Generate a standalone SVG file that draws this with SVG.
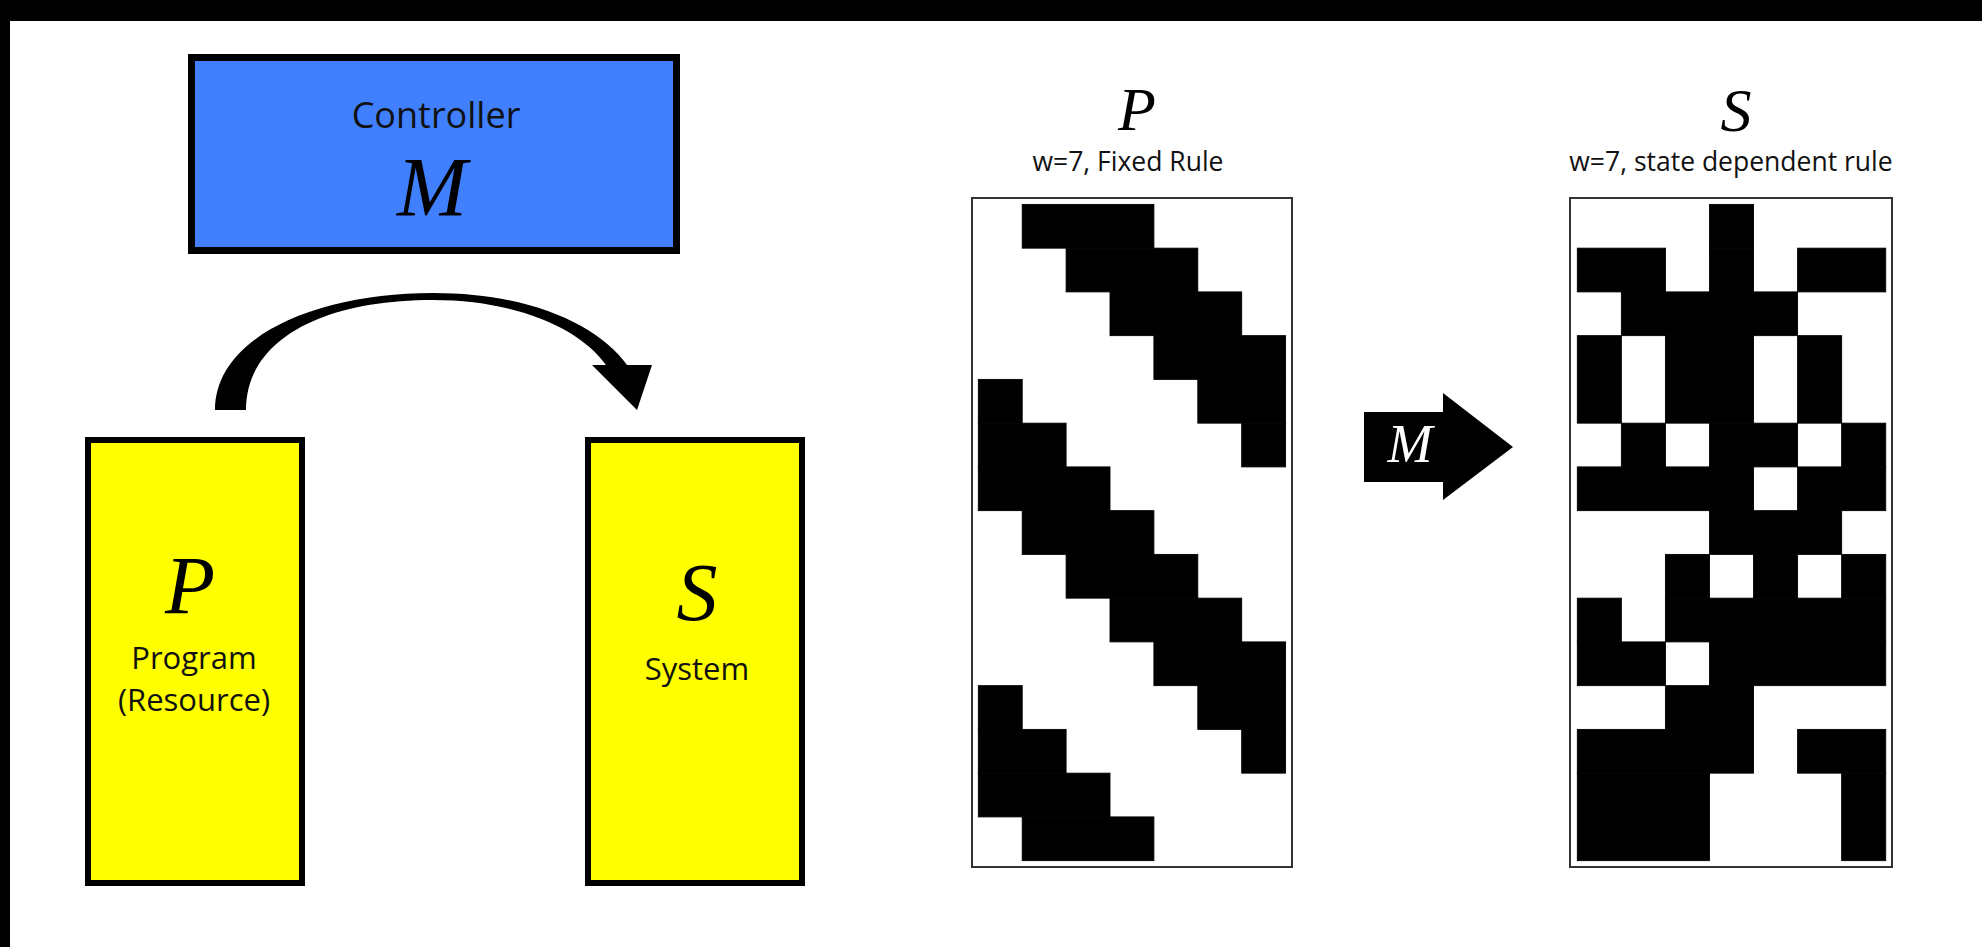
<svg xmlns="http://www.w3.org/2000/svg" width="1982" height="947" viewBox="0 0 1982 947">
<style>
.lbl{font-family:"Open Sans","Liberation Sans",sans-serif;fill:#111;text-anchor:middle}
.cal{font-family:"Liberation Serif","DejaVu Serif",serif;font-style:italic;fill:#000;text-anchor:middle}
.box{stroke:#000;stroke-width:6}
.frame{fill:#fff;stroke:#333;stroke-width:2}
.cells rect{fill:#000;stroke:#000;stroke-width:0.02}
</style>
<rect x="0" y="0" width="1982" height="947" fill="#fff"/>
<rect x="0" y="0" width="1982" height="21" fill="#000"/>
<rect x="0" y="0" width="10" height="947" fill="#000"/>

<g id="controller">
<rect x="191.5" y="57.5" width="485" height="193" fill="#4080FF" stroke="#000" stroke-width="7"/>
<text class="lbl" x="436" y="128" font-size="36">Controller</text>
<text class="cal" x="432" y="216" font-size="84">M</text>
</g>

<g id="program">
<rect class="box" x="88" y="440" width="214" height="443" fill="#FFFF00"/>
<text class="cal" x="190" y="613" font-size="82">P</text>
<text class="lbl" x="194" y="669" font-size="31">Program</text>
<text class="lbl" x="194" y="711" font-size="31">(Resource)</text>
</g>

<g id="system">
<rect class="box" x="588" y="440" width="214" height="443" fill="#FFFF00"/>
<text class="cal" x="697" y="620" font-size="82">S</text>
<text class="lbl" x="697" y="680" font-size="31">System</text>
</g>

<g id="gridP">
<text class="cal" x="1137" y="130" font-size="62">P</text>
<text class="lbl" x="1128" y="171" font-size="26.5">w=7, Fixed Rule</text>
<rect class="frame" x="972" y="198" width="320" height="669"/>
<g class="cells" transform="translate(978.3,204.4) scale(43.9,43.75)">
<rect x="1" y="0" width="3" height="1"/>
<rect x="2" y="1" width="3" height="1"/>
<rect x="3" y="2" width="3" height="1"/>
<rect x="4" y="3" width="3" height="1"/>
<rect x="0" y="4" width="1" height="1"/><rect x="5" y="4" width="2" height="1"/>
<rect x="0" y="5" width="2" height="1"/><rect x="6" y="5" width="1" height="1"/>
<rect x="0" y="6" width="3" height="1"/>
<rect x="1" y="7" width="3" height="1"/>
<rect x="2" y="8" width="3" height="1"/>
<rect x="3" y="9" width="3" height="1"/>
<rect x="4" y="10" width="3" height="1"/>
<rect x="0" y="11" width="1" height="1"/><rect x="5" y="11" width="2" height="1"/>
<rect x="0" y="12" width="2" height="1"/><rect x="6" y="12" width="1" height="1"/>
<rect x="0" y="13" width="3" height="1"/>
<rect x="1" y="14" width="3" height="1"/>
</g>
</g>

<g id="gridS">
<text class="cal" x="1736" y="131" font-size="62">S</text>
<text class="lbl" x="1731" y="171" font-size="26.5">w=7, state dependent rule</text>
<rect class="frame" x="1570" y="198" width="322" height="669"/>
<g class="cells" transform="translate(1577.3,204.4) scale(44.06,43.75)">
<rect x="3" y="0" width="1" height="1"/>
<rect x="0" y="1" width="2" height="1"/><rect x="3" y="1" width="1" height="1"/><rect x="5" y="1" width="2" height="1"/>
<rect x="1" y="2" width="4" height="1"/>
<rect x="0" y="3" width="1" height="2"/><rect x="2" y="3" width="2" height="2"/><rect x="5" y="3" width="1" height="2"/>
<rect x="1" y="5" width="1" height="1"/><rect x="3" y="5" width="2" height="1"/><rect x="6" y="5" width="1" height="1"/>
<rect x="0" y="6" width="4" height="1"/><rect x="5" y="6" width="2" height="1"/>
<rect x="3" y="7" width="3" height="1"/>
<rect x="2" y="8" width="1" height="1"/><rect x="4" y="8" width="1" height="1"/><rect x="6" y="8" width="1" height="1"/>
<rect x="0" y="9" width="1" height="1"/><rect x="2" y="9" width="5" height="1"/>
<rect x="0" y="10" width="2" height="1"/><rect x="3" y="10" width="4" height="1"/>
<rect x="2" y="11" width="2" height="1"/>
<rect x="0" y="12" width="4" height="1"/><rect x="5" y="12" width="2" height="1"/>
<rect x="0" y="13" width="3" height="2"/><rect x="6" y="13" width="1" height="2"/>
</g>
</g>

<g id="connectors">
<path d="M215,410 C215,335 320,293 433,293 C530,293 598,325 627,365 L652,365 L637,410 L592,365 L606,365 C580,328 515,300 433,300 C322,300 246,340 246,410 Z" fill="#000"/>
<polygon points="1364,412 1443,412 1443,393 1513,447 1443,500 1443,482 1364,482" fill="#000"/>
<text class="cal" x="1410" y="462" font-size="54" style="fill:#fff">M</text>
</g>
</svg>
